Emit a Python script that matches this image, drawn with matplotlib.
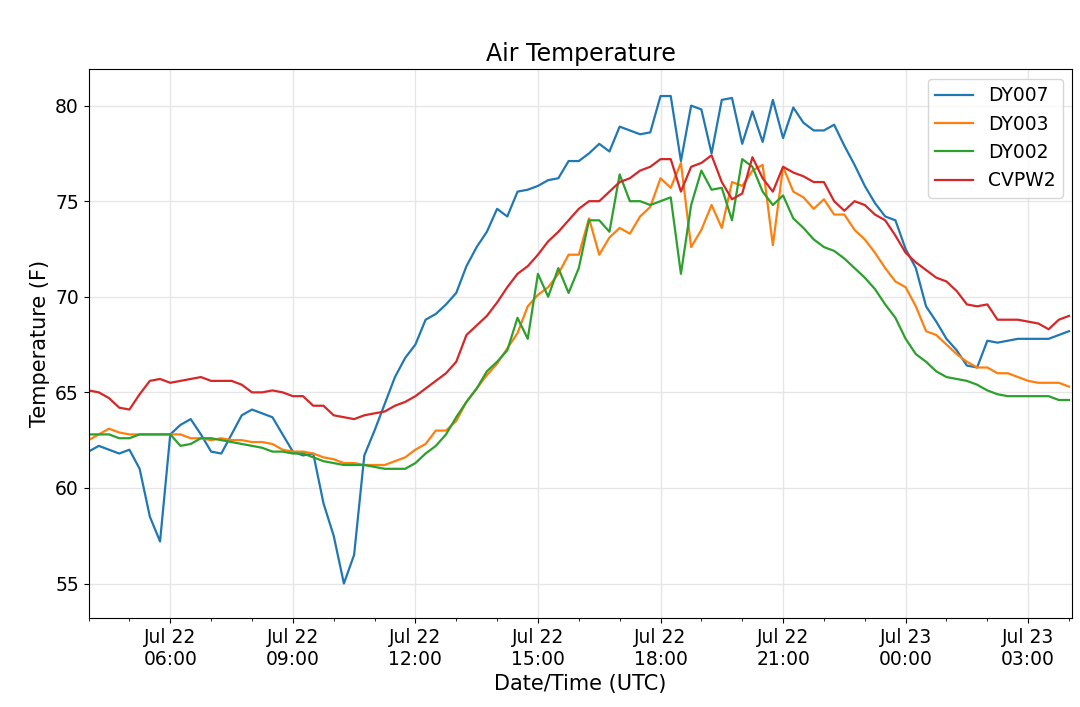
import numpy as np
import pandas as pd
import matplotlib
matplotlib.use('Agg')
import matplotlib.pyplot as plt
import matplotlib.dates as mdates

start = '2019-07-22 04:00'

dy007 = [61.9, 62.2, 62.0, 61.8, 62.0, 61.0, 58.5, 57.2, 62.8, 63.3, 63.6, 62.8,
         61.9, 61.8, 62.8, 63.8, 64.1, 63.9, 63.7, 62.8, 61.9, 61.7, 61.8, 59.2,
         57.5, 55.0, 56.5, 61.7, 63.0, 64.4, 65.8, 66.8, 67.5, 68.8, 69.1, 69.6,
         70.2, 71.6, 72.6, 73.4, 74.6, 74.2, 75.5, 75.6, 75.8, 76.1, 76.2, 77.1,
         77.1, 77.5, 78.0, 77.6, 78.9, 78.7, 78.5, 78.6, 80.5, 80.5, 77.1, 80.0,
         79.8, 77.5, 80.3, 80.4, 78.0, 79.7, 78.1, 80.3, 78.3, 79.9, 79.1, 78.7,
         78.7, 79.0, 77.9, 76.9, 75.8, 74.9, 74.2, 74.0, 72.5, 71.5, 69.5, 68.7,
         67.8, 67.2, 66.4, 66.3, 67.7, 67.6, 67.7, 67.8, 67.8, 67.8, 67.8, 68.0, 68.2]
dy003 = [62.5, 62.8, 63.1, 62.9, 62.8, 62.8, 62.8, 62.8, 62.8, 62.8, 62.6, 62.6,
         62.5, 62.6, 62.5, 62.5, 62.4, 62.4, 62.3, 62.0, 61.9, 61.9, 61.8, 61.6,
         61.5, 61.3, 61.3, 61.2, 61.2, 61.2, 61.4, 61.6, 62.0, 62.3, 63.0, 63.0,
         63.5, 64.5, 65.2, 65.9, 66.5, 67.3, 68.1, 69.5, 70.1, 70.5, 71.2, 72.2,
         72.2, 74.1, 72.2, 73.1, 73.6, 73.3, 74.2, 74.7, 76.2, 75.7, 77.0, 72.6,
         73.5, 74.8, 73.6, 76.0, 75.8, 76.6, 76.9, 72.7, 76.8, 75.5, 75.2, 74.6,
         75.1, 74.3, 74.3, 73.5, 73.0, 72.3, 71.5, 70.8, 70.5, 69.5, 68.2, 68.0,
         67.5, 67.0, 66.6, 66.3, 66.3, 66.0, 66.0, 65.8, 65.6, 65.5, 65.5, 65.5, 65.3]
dy002 = [62.8, 62.8, 62.8, 62.6, 62.6, 62.8, 62.8, 62.8, 62.8, 62.2, 62.3, 62.6,
         62.6, 62.5, 62.4, 62.3, 62.2, 62.1, 61.9, 61.9, 61.8, 61.8, 61.6, 61.4,
         61.3, 61.2, 61.2, 61.2, 61.1, 61.0, 61.0, 61.0, 61.3, 61.8, 62.2, 62.8,
         63.7, 64.5, 65.2, 66.1, 66.6, 67.2, 68.9, 67.8, 71.2, 70.0, 71.5, 70.2,
         71.5, 74.0, 74.0, 73.4, 76.4, 75.0, 75.0, 74.8, 75.0, 75.2, 71.2, 74.8,
         76.6, 75.6, 75.7, 74.0, 77.2, 76.8, 75.5, 74.8, 75.3, 74.1, 73.6, 73.0,
         72.6, 72.4, 72.0, 71.5, 71.0, 70.4, 69.6, 68.9, 67.8, 67.0, 66.6, 66.1,
         65.8, 65.7, 65.6, 65.4, 65.1, 64.9, 64.8, 64.8, 64.8, 64.8, 64.8, 64.6, 64.6]
cvpw2 = [65.1, 65.0, 64.7, 64.2, 64.1, 64.9, 65.6, 65.7, 65.5, 65.6, 65.7, 65.8,
         65.6, 65.6, 65.6, 65.4, 65.0, 65.0, 65.1, 65.0, 64.8, 64.8, 64.3, 64.3,
         63.8, 63.7, 63.6, 63.8, 63.9, 64.0, 64.3, 64.5, 64.8, 65.2, 65.6, 66.0,
         66.6, 68.0, 68.5, 69.0, 69.7, 70.5, 71.2, 71.6, 72.2, 72.9, 73.4, 74.0,
         74.6, 75.0, 75.0, 75.5, 76.0, 76.2, 76.6, 76.8, 77.2, 77.2, 75.5, 76.8,
         77.0, 77.4, 76.0, 75.1, 75.4, 77.3, 76.2, 75.5, 76.8, 76.5, 76.3, 76.0,
         76.0, 75.0, 74.5, 75.0, 74.8, 74.3, 74.0, 73.2, 72.3, 71.8, 71.4, 71.0,
         70.8, 70.3, 69.6, 69.5, 69.6, 68.8, 68.8, 68.8, 68.7, 68.6, 68.3, 68.8, 69.0]

series = {'DY007': dy007, 'DY003': dy003, 'DY002': dy002, 'CVPW2': cvpw2}

fig = plt.figure(figsize=(10.8, 7.07), dpi=100)
ax = fig.add_axes([0.082, 0.126, 0.911, 0.776])
for name, vals in series.items():
    t = pd.date_range(start, periods=len(vals), freq='15min')
    ax.plot(t, vals, label=name, linewidth=1.6)

ax.set_xlim(pd.Timestamp('2019-07-22 04:00'), pd.Timestamp('2019-07-23 04:05'))
ax.set_ylim(53.2, 81.9)
ax.xaxis.set_major_locator(mdates.HourLocator(byhour=[0, 3, 6, 9, 12, 15, 18, 21]))
ax.xaxis.set_minor_locator(mdates.HourLocator())
ax.xaxis.set_major_formatter(mdates.DateFormatter('%b %d\n%H:%M'))
ax.tick_params(labelsize=13.5)
ax.grid(True, color='#e6e6e6', linewidth=1)
ax.set_title('Air Temperature', fontsize=17)
ax.set_xlabel('Date/Time (UTC)', fontsize=15)
ax.set_ylabel('Temperature (F)', fontsize=15)
ax.legend(loc='upper right', fontsize=13.5)
fig.savefig('out.png', dpi=100)
